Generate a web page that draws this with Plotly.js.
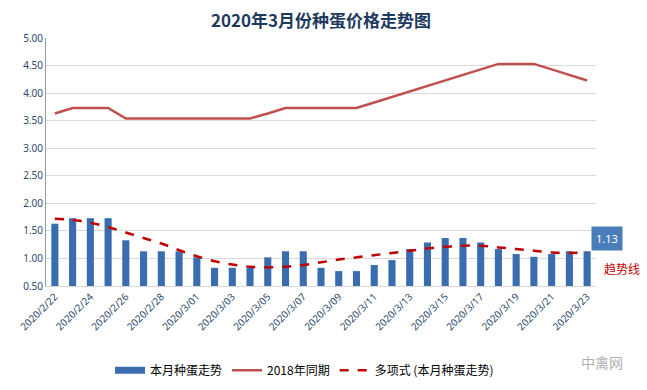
<!DOCTYPE html>
<html>
<head>
<meta charset="utf-8">
<script src="https://cdn.plot.ly/plotly-3.0.1.min.js"></script>
<style>html,body{margin:0;padding:0;background:#fff;}#chart{width:647px;height:390px;}</style>
</head>
<body>
<div id="chart"></div>
<script>
var categories = ["2020/2/22","2020/2/23","2020/2/24","2020/2/25","2020/2/26","2020/2/27","2020/2/28","2020/2/29",
  "2020/3/01","2020/3/02","2020/3/03","2020/3/04","2020/3/05","2020/3/06","2020/3/07","2020/3/08","2020/3/09",
  "2020/3/10","2020/3/11","2020/3/12","2020/3/13","2020/3/14","2020/3/15","2020/3/16","2020/3/17","2020/3/18",
  "2020/3/19","2020/3/20","2020/3/21","2020/3/22","2020/3/23"];
var thisMonth = [1.63,1.73,1.73,1.73,1.33,1.13,1.13,1.13,1.02,0.83,0.83,0.83,1.02,1.13,1.13,0.83,
  0.77,0.77,0.88,0.97,1.17,1.29,1.37,1.37,1.29,1.17,1.08,1.03,1.08,1.13,1.13];
var sameTime2018 = [3.63,3.73,3.73,3.73,3.54,3.54,3.54,3.54,3.54,3.54,3.54,3.54,3.63,3.73,3.73,3.73,
  3.73,3.73,3.83,3.93,4.03,4.13,4.23,4.33,4.43,4.53,4.53,4.53,4.43,4.33,4.23];
var trend = [1.72,1.70,1.65,1.57,1.47,1.37,1.27,1.15,1.04,0.95,0.89,0.85,0.84,0.85,0.88,0.93,
  0.98,1.02,1.06,1.10,1.14,1.18,1.21,1.23,1.23,1.20,1.17,1.14,1.11,1.10,1.11];
var tickLabels = categories.filter(function(c,i){return i%2===0;});
var yTicks = [0.5,1,1.5,2,2.5,3,3.5,4,4.5,5];

var font = "Noto Sans, Noto Sans CJK SC, sans-serif";
var barColor = '#3a6cb0';
var traces = [
  {type:'bar', x:categories, y:thisMonth, name:'本月种蛋走势', width:0.4, showlegend:false,
   marker:{color:barColor, line:{width:0}}},
  {type:'scatter', mode:'lines', x:[null], y:[null], name:'本月种蛋走势', showlegend:true,
   line:{color:barColor, width:7}},
  {type:'scatter', mode:'lines', x:categories, y:sameTime2018, name:'2018年同期',
   line:{color:'#c0504d', width:2.5}},
  {type:'scatter', mode:'lines', x:categories, y:trend, name:'多项式 (本月种蛋走势)',
   line:{color:'#c00000', width:2.5, dash:'dash', shape:'spline'}}
];
var layout = {
  width:647, height:390,
  margin:{l:46, r:51, t:38, b:104, autoexpand:false},
  paper_bgcolor:'#fff', plot_bgcolor:'#fff',
  font:{family:font, size:10, color:'#44546a'},
  title:{text:'<b>2020年3月份种蛋价格走势图</b>', x:0.5, xref:'paper', y:0.945, yanchor:'middle',
    font:{family:'Noto Sans CJK SC, sans-serif', size:17, color:'#1f3a5f'}},
  showlegend:true,
  legend:{orientation:'h', x:0.47, xanchor:'center', y:-0.34, yanchor:'middle',
    font:{family:'Noto Sans CJK SC, sans-serif', size:12, color:'#000'}, traceorder:'normal'},
  xaxis:{type:'category', tickmode:'array', tickvals:tickLabels, ticktext:tickLabels, tickangle:-45,
    automargin:false, showgrid:false, showline:true, linecolor:'#d9d9d9', ticks:'', tickfont:{size:10, color:'#2e4a6e'}},
  yaxis:{range:[0.5,5], tickmode:'array', tickvals:yTicks, ticktext:yTicks.map(function(v){return v.toFixed(2);}),
    automargin:false, showgrid:true, gridcolor:'#d9d9d9', showline:true, linecolor:'#9a9a9a', ticks:'', zeroline:false,
    tickfont:{size:10, color:'#2e4a6e'}},
  annotations:[
    {xref:'paper', yref:'y', x:1.02, y:1.37, xanchor:'center', yanchor:'middle',
     text:String(thisMonth[thisMonth.length-1].toFixed(2)), showarrow:false,
     bgcolor:'#4a7ebb', font:{color:'#fff', size:11}, borderpad:4},
    {xref:'paper', yref:'y', x:1.048, y:0.82, xanchor:'center', yanchor:'middle', text:'趋势线', showarrow:false,
     font:{family:'Noto Sans CJK SC, sans-serif', color:'#c00000', size:12}},
    {xref:'paper', yref:'paper', x:1.011, y:-0.306, xanchor:'center', yanchor:'middle', text:'中禽网', showarrow:false,
     font:{family:'Noto Sans CJK SC, sans-serif', color:'#b0b0b0', size:14}}
  ]
};
Plotly.newPlot('chart', traces, layout, {displayModeBar:false, staticPlot:true});
</script>
</body>
</html>
